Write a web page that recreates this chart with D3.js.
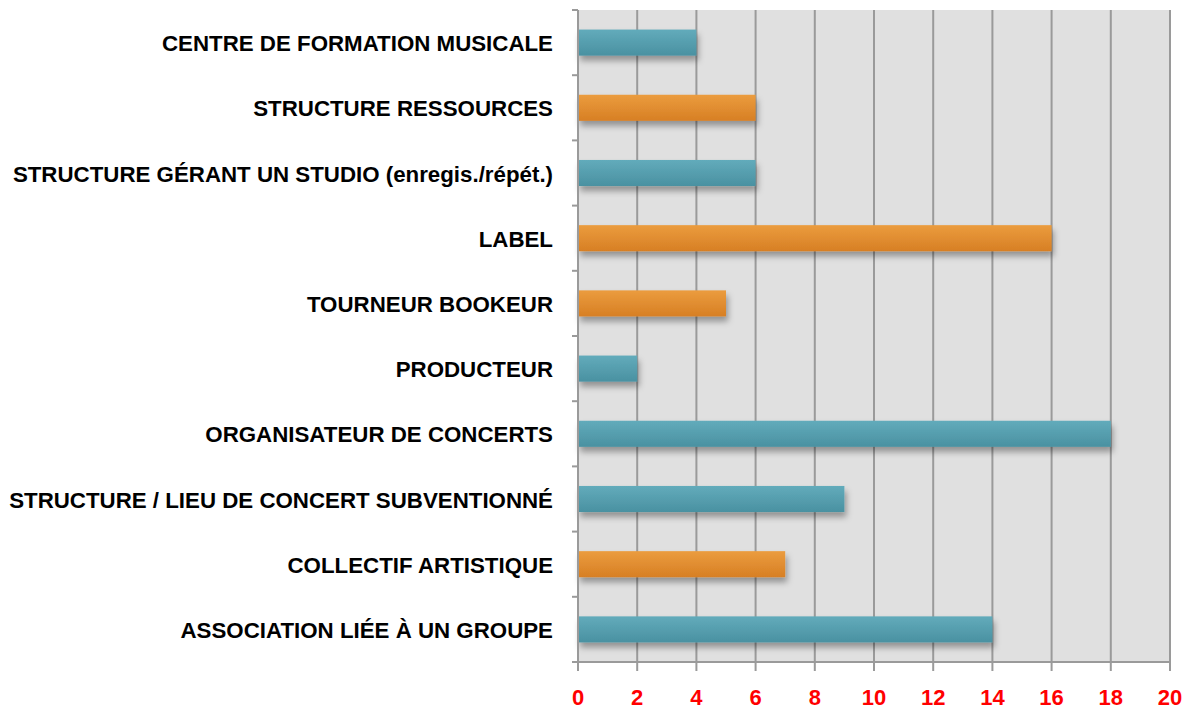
<!DOCTYPE html>
<html><head><meta charset="utf-8">
<script src="https://cdn.jsdelivr.net/npm/d3@7"></script>
<style>body{margin:0;background:#fff}</style>
</head><body>
<svg id="c" width="1187" height="710"></svg>
<script>
const categories = [
  "CENTRE DE FORMATION MUSICALE",
  "STRUCTURE RESSOURCES",
  "STRUCTURE GÉRANT UN STUDIO (enregis./répét.)",
  "LABEL",
  "TOURNEUR BOOKEUR",
  "PRODUCTEUR",
  "ORGANISATEUR DE CONCERTS",
  "STRUCTURE / LIEU DE CONCERT SUBVENTIONNÉ",
  "COLLECTIF ARTISTIQUE",
  "ASSOCIATION LIÉE À UN GROUPE"
];
const values = [4, 6, 6, 16, 5, 2, 18, 9, 7, 14];
const groups = ["A", "B", "A", "B", "B", "A", "A", "A", "B", "A"];
const xTicks = [0, 2, 4, 6, 8, 10, 12, 14, 16, 18, 20];

const svg = d3.select("#c");
const m = {left: 578, right: 17, top: 10, bottom: 48};
const W = 1187, H = 710;
const x = d3.scaleLinear().domain([0, 20]).range([m.left, W - m.right]);
const y = d3.scaleBand().domain(categories).range([m.top, H - m.bottom]).paddingInner(0.6).paddingOuter(0.3);
const yb = d3.scaleBand().domain(categories).range([m.top, H - m.bottom]);

const defs = svg.append("defs");
const gA = defs.append("linearGradient").attr("id", "gA").attr("x1", 0).attr("y1", 0).attr("x2", 0).attr("y2", 1);
gA.append("stop").attr("offset", 0).attr("stop-color", "#62abbb");
gA.append("stop").attr("offset", 1).attr("stop-color", "#4a91a1");
const gB = defs.append("linearGradient").attr("id", "gB").attr("x1", 0).attr("y1", 0).attr("x2", 0).attr("y2", 1);
gB.append("stop").attr("offset", 0).attr("stop-color", "#eb9c3e");
gB.append("stop").attr("offset", 1).attr("stop-color", "#d77f24");
const f = defs.append("filter").attr("id", "sh").attr("x", "-10%").attr("y", "-30%").attr("width", "130%").attr("height", "180%");
f.append("feDropShadow").attr("dx", 2).attr("dy", 5).attr("stdDeviation", 3).attr("flood-color", "#000").attr("flood-opacity", 0.35);

const color = d3.scaleOrdinal().domain(["A", "B"]).range(["url(#gA)", "url(#gB)"]);

svg.append("rect").attr("x", x(0)).attr("y", m.top).attr("width", x(20) - x(0)).attr("height", H - m.bottom - m.top).attr("fill", "#e0e0e0");

svg.append("g").selectAll("line").data(xTicks.slice(1)).join("line")
  .attr("x1", d => x(d)).attr("x2", d => x(d)).attr("y1", m.top).attr("y2", H - m.bottom)
  .attr("stroke", "#9a9a9a").attr("stroke-width", 2);

svg.append("g").selectAll("rect").data(categories).join("rect")
  .attr("x", x(0)).attr("y", d => y(d)).attr("height", y.bandwidth())
  .attr("width", (d, i) => x(values[i]) - x(0))
  .attr("fill", (d, i) => color(groups[i]))
  .attr("filter", "url(#sh)");

const ya = svg.append("g").attr("transform", `translate(${x(0)},0)`);
ya.append("line").attr("x1", 0).attr("x2", 0).attr("y1", m.top).attr("y2", H - m.bottom).attr("stroke", "#9a9a9a").attr("stroke-width", 2);
const bounds = categories.map(c => yb(c)).concat([H - m.bottom]);
ya.selectAll("line.t").data(bounds).join("line").attr("class", "t")
  .attr("x1", -6).attr("x2", 0).attr("y1", d => d).attr("y2", d => d)
  .attr("stroke", "#9a9a9a").attr("stroke-width", 2);
ya.selectAll("text").data(categories).join("text")
  .attr("x", -25).attr("y", d => yb(d) + yb.bandwidth() / 2 + 1)
  .attr("text-anchor", "end").attr("dominant-baseline", "central")
  .attr("font-family", "Liberation Sans, Arial, sans-serif").attr("font-weight", "bold").attr("font-size", 22.3)
  .attr("fill", "#000").text(d => d);

const xa = svg.append("g").attr("transform", `translate(0,${H - m.bottom})`);
xa.append("line").attr("x1", x(0)).attr("x2", x(20)).attr("stroke", "#9a9a9a").attr("stroke-width", 2);
xa.selectAll("line.t").data(xTicks).join("line").attr("class", "t")
  .attr("x1", d => x(d)).attr("x2", d => x(d)).attr("y1", 0).attr("y2", 9)
  .attr("stroke", "#9a9a9a").attr("stroke-width", 2);
xa.selectAll("text").data(xTicks).join("text")
  .attr("x", d => x(d)).attr("y", 35).attr("text-anchor", "middle").attr("dominant-baseline", "central")
  .attr("font-family", "Liberation Sans, Arial, sans-serif").attr("font-weight", "bold").attr("font-size", 22)
  .attr("fill", "#ff0000").text(d => d);
</script>
</body></html>
